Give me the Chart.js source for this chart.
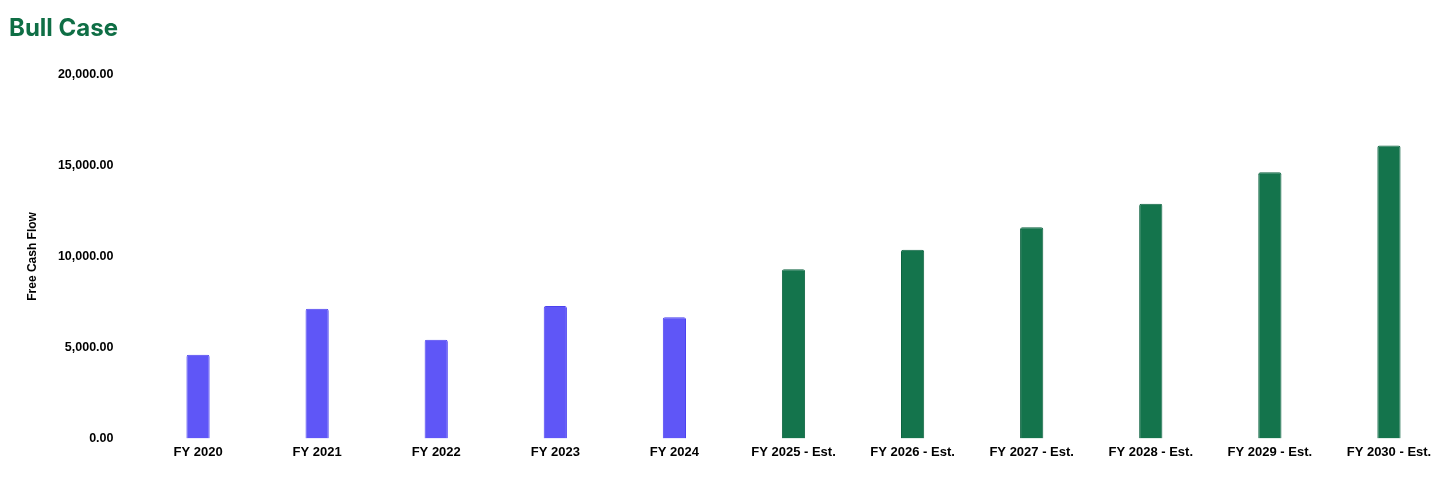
<!DOCTYPE html>
<html>
<head>
<meta charset="utf-8">
<script src="https://cdn.jsdelivr.net/npm/chart.js@4"></script>
<style>
  html, body { margin: 0; padding: 0; background: #fff; }
  #wrap { position: relative; width: 1456px; height: 486px; }
</style>
</head>
<body>
<div id="wrap"><canvas id="chart"></canvas></div>
<script>
'use strict';

// chart data
var labels = ['FY 2020', 'FY 2021', 'FY 2022', 'FY 2023', 'FY 2024',
  'FY 2025 - Est.', 'FY 2026 - Est.', 'FY 2027 - Est.', 'FY 2028 - Est.',
  'FY 2029 - Est.', 'FY 2030 - Est.'];
var freeCashFlow = [4600, 7120, 5420, 7270, 6660, 9300, 10370, 11610, 12900, 14630, 16100];
var yTicks = [0, 5000, 10000, 15000, 20000];

var purple = '#5f56f7';
var purpleEdge = '#4b41ef';
var green = '#14744c';
var greenEdge = '#0d6340';

var fills = [];
var edges = [];
for (var i = 0; i < labels.length; i++) {
  var est = labels[i].indexOf('Est.') !== -1;
  fills.push(est ? green : purple);
  edges.push(est ? greenEdge : purpleEdge);
}

function money(v) {
  return Number(v).toLocaleString('en-US', { minimumFractionDigits: 2, maximumFractionDigits: 2 });
}

var ctx = document.getElementById('chart').getContext('2d');
var chart = new Chart(ctx, {
  type: 'bar',
  data: {
    labels: labels,
    datasets: [{
      label: 'Free Cash Flow',
      data: freeCashFlow,
      backgroundColor: fills,
      borderColor: edges,
      borderWidth: 1,
      borderRadius: 2,
      borderSkipped: 'bottom',
      barPercentage: 0.195,
      categoryPercentage: 1
    }]
  },
  options: {
    responsive: true,
    maintainAspectRatio: false,
    animation: false,
    layout: { padding: { left: 9, right: 7.5, top: 0, bottom: 20 } },
    plugins: {
      legend: { display: false },
      tooltip: { enabled: false },
      title: {
        display: true,
        text: 'Bull Case',
        align: 'start',
        color: '#0f6e45',
        font: { family: 'Inter, "Liberation Sans", Arial, sans-serif', size: 24, weight: 'bold' },
        padding: { top: 14, bottom: 31.7 }
      }
    },
    scales: {
      x: {
        grid: { display: false, drawTicks: false },
        border: { display: false },
        ticks: {
          color: '#000',
          padding: 6,
          maxRotation: 0,
          autoSkip: false,
          font: { family: '"Liberation Sans", Arial, sans-serif', size: 13, weight: 'bold' }
        }
      },
      y: {
        min: 0,
        max: 20000,
        afterBuildTicks: function(scale) {
          scale.ticks = yTicks.map(function(v) { return { value: v }; });
        },
        // keep the axis the same width as the reference
        afterFit: function(scale) {
          scale.width = 129.5;
        },
        grid: { display: false, drawTicks: false },
        border: { display: false },
        title: {
          display: true,
          text: 'Free Cash Flow',
          color: '#000',
          font: { family: '"Liberation Sans", Arial, sans-serif', size: 12, weight: 'bold' },
          padding: { top: 16, bottom: 19 }
        },
        ticks: {
          color: '#000',
          padding: 25,
          font: { family: '"Liberation Sans", Arial, sans-serif', size: 12.5, weight: 'bold' },
          callback: function(v) { return money(v); }
        }
      }
    }
  }
});
</script>
</body>
</html>
